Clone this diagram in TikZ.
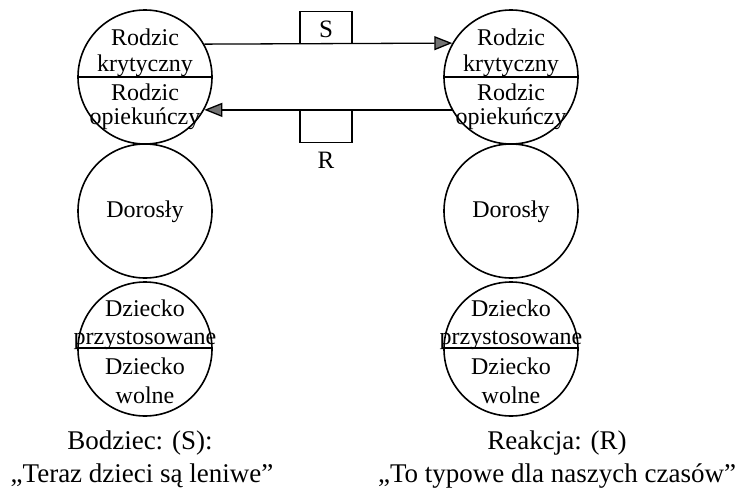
\documentclass[tikz,border=0pt]{standalone}
\usepackage{fontspec}
\setmainfont{Liberation Serif}
\usetikzlibrary{arrows.meta,calc}
\begin{document}
\begin{tikzpicture}[x=1pt,y=-1pt,
  ego/.style={circle,draw,line width=1.6pt,minimum size=134pt,inner sep=0pt},
  divider/.style={line width=1.4pt},
  lbl/.style={font=\fontsize{24}{28}\selectfont,inner sep=0pt,anchor=base},
  caption/.style={font=\fontsize{27}{30}\selectfont,inner sep=0pt,anchor=base},
  tbox/.style={draw,line width=1.3pt,minimum width=52pt,minimum height=32pt,inner sep=0pt},
  boxtext/.style={font=\fontsize{25}{28}\selectfont,inner sep=0pt,anchor=base},
  msg/.style={line width=1.3pt,-{Triangle[length=18pt,width=14pt,fill=black!55]}}]
\useasboundingbox (0,0) rectangle (740,493);

% ego states of the sender
\node[ego] (lp) at (145,77) {};
\node[ego] (la) at (145,211) {};
\node[ego] (lc) at (145,349) {};
% ego states of the receiver
\node[ego] (rp) at (511,77) {};
\node[ego] (ra) at (511,211) {};
\node[ego] (rc) at (511,349) {};

\foreach \c in {lp,rp} {
  \draw[divider] (\c.west) -- (\c.east);
  \node[lbl] (\c-t1) at ($(\c)+(0,-32)$) {Rodzic};
  \node[lbl] (\c-t2) at ($(\c)+(0,-6)$) {krytyczny};
  \node[lbl] (\c-t3) at ($(\c)+(0,23)$) {Rodzic};
  \node[lbl] (\c-t4) at ($(\c)+(0,47)$) {opiekuńczy};
}
\foreach \c in {la,ra} {
  \node[lbl] (\c-t) at ($(\c)+(0,6)$) {Dorosły};
}
\foreach \c in {lc,rc} {
  \draw[divider] ($(\c.west)+(0,-1)$) -- ($(\c.east)+(0,-1)$);
  \node[lbl] (\c-t1) at ($(\c)+(0,-33)$) {Dziecko};
  \node[lbl] (\c-t2) at ($(\c)+(0,-5)$) {przystosowane};
  \node[lbl] (\c-t3) at ($(\c)+(0,25)$) {Dziecko};
  \node[lbl] (\c-t4) at ($(\c)+(0,54)$) {wolne};
}

% transactions
\draw[msg] (lp.29.5) -- (rp.150.5);
\draw[msg] (rp.209.5) -- (lp.-29.5);
\node[tbox,anchor=south] (sbox) at (326,44) {};
\node[boxtext] (slabel) at (326,37) {S};
\node[tbox,anchor=north] (rbox) at (326,110) {};
\node[boxtext] (rlabel) at (326,168) {R};

% captions
\node[caption] (cap1) at (140,449) {Bodziec: (S):};
\node[caption] (cap2) at (142,482) {„Teraz dzieci są leniwe”};
\node[caption] (cap3) at (557,449) {Reakcja: (R)};
\node[caption] (cap4) at (557,482) {„To typowe dla naszych czasów”};
\end{tikzpicture}
\end{document}
